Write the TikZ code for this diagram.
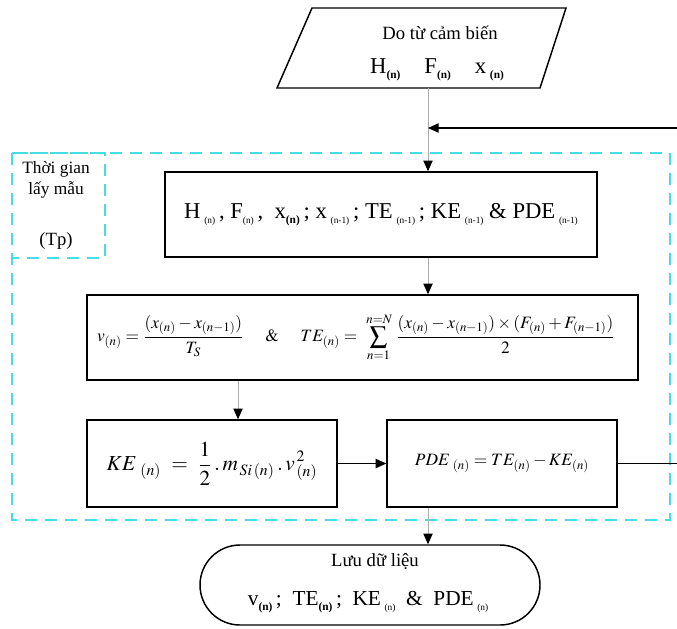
\documentclass[tikz,border=0pt]{standalone}
\usepackage{mathptmx}
\usepackage[no-math]{fontspec}
\setmainfont{Liberation Serif}
\usetikzlibrary{arrows.meta}
\definecolor{dashcyan}{RGB}{70,222,228}
\newcommand\sbb[1]{\raisebox{-0.5ex}{\fontsize{8.5}{9}\selectfont\bfseries #1}}
\newcommand\sbr[1]{\raisebox{-0.5ex}{\fontsize{7}{8}\selectfont #1}}
\begin{document}
\begin{tikzpicture}[x=0.75pt,y=-0.75pt,
  box/.style={draw,line width=1.1pt,inner sep=0pt},
  conn/.style={draw=gray!65,line width=0.7pt},
  tip/.style={-{Triangle[length=8pt,width=7pt,black]}},
  region/.style={draw=dashcyan,line width=1.8pt,dash pattern=on 9pt off 6pt},
  txt/.style={font=\fontsize{13}{15}\selectfont,inner sep=0pt}]
\useasboundingbox (0,0) rectangle (677,628);
% dashed regions
\draw[region] (12,153) rectangle (670,520);
\draw[region] (12,153) rectangle (105,258);
\node[txt,align=center] (tg) at (56,180) {Thời gian\\[1pt]lấy mẫu};
\node[txt,font=\fontsize{14}{16}\selectfont] (tp) at (56,241) {(Tp)};
% input parallelogram
\draw[line width=1.1pt] (312,8) -- (566,8) -- (540,88) -- (277,88) -- cycle;
\node[txt,font=\fontsize{14}{16}\selectfont] (in1) at (440,33) {Do từ cảm biến};
\node[txt,font=\fontsize{17}{19}\selectfont] (in2) at (437,70)
  {H\sbb{(n)}\hspace{18pt}F\sbb{(n)}\hspace{18pt}x\,\sbb{(n)}};
\coordinate (inb) at (428,88);
% boxes
\node[box,minimum width=324pt,minimum height=63.75pt] (b1) at (381,214.5) {};
\node[txt,font=\fontsize{17}{19}\selectfont] (t1) at (b1.center)
  {H\,\sbr{(n)}\,, F\sbr{(n)}\,,\ \ x\sbb{(n)}\,; x\,\sbr{(n-1)}\,; TE\,\sbr{(n-1)}\,; KE\,\sbr{(n-1)} \& PDE\,\sbr{(n-1)}};
\node[box,minimum width=413.25pt,minimum height=63.75pt] (b2) at (362.5,337.5) {};
\node[inner sep=0pt,font=\fontsize{13}{15}\selectfont] (t2) at (356,337.5)
  {$\displaystyle v_{(n)}=\frac{(x_{(n)}-x_{(n-1)})}{T_S}\quad\ \&\quad\ 
   TE_{(n)}=\;\sum_{n=1}^{\,n=N}\,\frac{(x_{(n)}-x_{(n-1)})\times(F_{(n)}+F_{(n-1)})}{2}$};
\node[box,minimum width=187.5pt,minimum height=65.25pt] (ke) at (212,463.5) {};
\node[inner sep=0pt,font=\fontsize{16}{18}\selectfont] (t3) at (ke.center)
  {$\displaystyle KE_{\ (n)}\ =\ \frac{1}{2}\,.\,m_{\,Si\,(n)}\,.\,v^{\,2}_{\,(n)}$};
\node[box,minimum width=172.5pt,minimum height=65.25pt] (pde) at (502,463.5) {};
\node[inner sep=0pt,font=\fontsize{13}{15}\selectfont] (t4) at (pde.center)
  {$PDE_{\ (n)}=TE_{(n)}-KE_{(n)}$};
\node[box,rounded corners=30pt,minimum width=255pt,minimum height=60pt] (out) at (370,585) {};
\node[txt,font=\fontsize{14}{16}\selectfont] (o1) at (375,562) {Lưu dữ liệu};
\node[txt,font=\fontsize{16}{18}\selectfont] (o2) at (368,602)
  {v\sbb{(n)}\,;\ \ TE\sbb{(n)}\,;\ \ KE\,\sbr{(n)}\ \ \&\ \ PDE\,\sbr{(n)}};
% connectors
\coordinate (fb) at (428,128);
\coordinate (fr) at (690,128);
\draw[conn,tip] (inb) -- (inb |- b1.north);
\draw[conn,tip] (inb |- b1.south) -- (inb |- b2.north);
\draw[conn,tip] (238,0 |- b2.south) -- (238,0 |- ke.north);
\draw[line width=1.1pt,tip] (ke.east) -- (pde.west);
\draw[conn,tip] (inb |- pde.south) -- (inb |- out.north);
\draw[line width=1pt,-{Triangle[length=8pt,width=7pt,black]}] (pde.east) -- (pde.east -| fr) -- (fr) -- (fb);
\end{tikzpicture}
\end{document}
